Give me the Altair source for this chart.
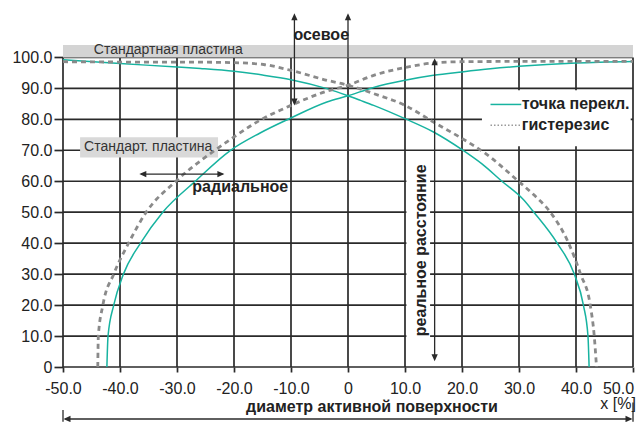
import altair as alt
import pandas as pd

# ---- curve data ----
teal_down_x = [-50, -40, -30, -25.9, -20, -15, -10, -3.7, 0, 2.2, 4.5, 10, 15, 20, 23.5, 27.0, 30.8, 32.6, 36.7, 39.7, 41.3, 42.1, 42.3]
teal_down_y = [99.2, 98.0, 96.9, 96.4, 95.5, 94.3, 92.8, 89.9, 87.6, 86.1, 84.5, 80.2, 75.9, 70.2, 65.6, 60.0, 54.0, 50, 40, 30, 20, 10, 0]

teal_up_x = [-42.3, -42.1, -41.1, -39.4, -36.4, -32.5, -26.8, -20.6, -15.5, -10.4, -3.7, 0, 4.5, 10, 15, 20, 25, 30, 40, 50]
teal_up_y = [0, 10, 20, 30, 40, 50, 60, 70, 75.5, 80.1, 85.6, 87.6, 90.3, 92.6, 94.2, 95.3, 96.3, 97.1, 98.2, 98.7]

dot_down_x = [-50, -40, -30, -20, -14.8, -10, -3.7, 0, 4.5, 10, 15, 20, 23.8, 29.9, 32.6, 35.5, 38.7, 40.8, 42.5, 43.2, 43.6]
dot_down_y = [98.6, 98.5, 98.5, 98.3, 97.7, 95.8, 92.6, 91.0, 88.3, 84.5, 79.1, 73.8, 69.4, 60, 55.6, 50, 40, 30, 20, 10, 0]

dot_up_x = [-43.9, -43.8, -43.0, -41.1, -38.5, -35.4, -30.2, -23.5, -20, -16, -10, -3.7, 0, 4.5, 10, 15, 20, 30, 40, 50]
dot_up_y = [0, 10, 20, 30, 40, 50, 60, 69.8, 74.3, 79.1, 84.5, 89.1, 91.0, 94.2, 96.7, 98.2, 98.6, 98.7, 98.7, 98.7]

x_ticks = list(range(-50, 51, 10))
y_ticks = list(range(0, 101, 10))

TEAL = "#17b3a0"
GRAY = "#8a8a8a"
INK = "#2a2a2a"
FONT = "Liberation Sans"

lab = "datum.value == 0 ? '0' : (datum.value < 0 ? '-' : '') + format(abs(datum.value), '.1f')"
xs = alt.Scale(domain=[-50, 50], nice=False, zero=False)
ys = alt.Scale(domain=[0, 104], nice=False, zero=False)
xaxis = alt.Axis(values=x_ticks, domain=False, grid=False, ticks=True, tickSize=5, tickColor=INK,
                 tickWidth=1.7, labelFont=FONT, labelFontSize=16, labelColor="#222222",
                 labelPadding=8, labelExpr=lab, labelFlush=False, labelOverlap=False, title="",
                 labelOffset={"condition": {"test": "datum.value == 50", "value": -15}, "value": 0})
yaxis = alt.Axis(values=y_ticks, domain=False, grid=False, ticks=True, tickSize=9, tickColor=INK,
                 tickWidth=1.7, labelFont=FONT, labelFontSize=16, labelColor="#222222",
                 labelPadding=2, labelExpr=lab, labelOverlap=False, title="")

X = alt.X("x:Q", scale=xs, axis=xaxis)
Y = alt.Y("y:Q", scale=ys, axis=yaxis)
X2 = alt.X2("x2:Q")
Y2 = alt.Y2("y2:Q")

# ---- grid ----
vgrid = pd.DataFrame({"x": x_ticks, "y": [0] * len(x_ticks), "y2": [100] * len(x_ticks)})
hgrid = pd.DataFrame({"y": y_ticks, "x": [-50] * len(y_ticks), "x2": [50] * len(y_ticks)})
grid_v = alt.Chart(vgrid).mark_rule(color=INK, strokeWidth=1.7).encode(x=X, y=Y, y2=Y2)
grid_h = alt.Chart(hgrid).mark_rule(color=INK, strokeWidth=1.7).encode(x=X, x2=X2, y=Y)

# ---- boxes ----
white_boxes = pd.DataFrame({"x": [23.5, 10.25], "x2": [49.6, 14.4], "y": [71.3, 7.0], "y2": [89.4, 67.0]})
wbox = alt.Chart(white_boxes).mark_rect(color="white").encode(x=X, x2=X2, y=Y, y2=Y2)
band = pd.DataFrame({"x": [-50], "x2": [50], "y": [100], "y2": [104]})
band_m = alt.Chart(band).mark_rect(color="#d4d4d4").encode(x=X, x2=X2, y=Y, y2=Y2)
lbox = pd.DataFrame({"x": [-47.0], "x2": [-22.8], "y": [67.7], "y2": [74.2]})
lbox_m = alt.Chart(lbox).mark_rect(color="#d9d9d9").encode(x=X, x2=X2, y=Y, y2=Y2)

# ---- curves ----
def curve(xv, yv, name):
    return pd.DataFrame({"x": xv, "y": yv, "s": name, "o": list(range(len(xv)))})

teal_df = pd.concat([curve(teal_down_x, teal_down_y, "a"), curve(teal_up_x, teal_up_y, "b")])
dot_df = pd.concat([curve(dot_down_x, dot_down_y, "c"), curve(dot_up_x, dot_up_y, "d")])
teal_m = alt.Chart(teal_df).mark_line(color=TEAL, strokeWidth=1.5, interpolate="monotone").encode(
    x=X, y=Y, detail="s:N", order="o:Q")
dot_m = alt.Chart(dot_df).mark_line(color=GRAY, strokeWidth=2.8, strokeDash=[5, 4], interpolate="monotone").encode(
    x=X, y=Y, detail="s:N", order="o:Q")

# ---- arrows ----
vlines = pd.DataFrame({"x": [0, -9.4, 15.2, -50, 50], "y": [100, 85.2, 2.5, -17.7, -17.7], "y2": [113.2, 113.2, 99.0, -13.9, -11.5]})
hlines = pd.DataFrame({"y": [62.3, -16.8], "x": [-36.3, -49.6], "x2": [-22.0, 49.6]})
av = alt.Chart(vlines).mark_rule(color=INK, strokeWidth=1.3).encode(x=X, y=Y, y2=Y2)
ah = alt.Chart(hlines).mark_rule(color=INK, strokeWidth=1.3).encode(x=X, x2=X2, y=Y)
heads = pd.DataFrame({
    "x": [0, -9.4, -9.4, 15.2, 15.2, -36.0, -22.3, -49.3, 49.3],
    "y": [113.1, 113.1, 85.6, 98.6, 3.0, 62.3, 62.3, -16.8, -16.8],
    "a": [0, 0, 180, 0, 180, 270, 90, 270, 90],
})
head_m = alt.Chart(heads).mark_point(shape="M0,-1L0.9,1L-0.9,1Z", filled=True, size=49, color=INK, opacity=1,
                                     strokeWidth=0).encode(x=X, y=Y, angle=alt.Angle("a:Q", scale=None))

# ---- legend ----
leg = pd.DataFrame({"x": [25.0], "x2": [30.4], "y": [84.8]})
leg2 = pd.DataFrame({"x": [25.0], "x2": [30.4], "y": [78.1]})
leg_t = alt.Chart(leg).mark_rule(color=TEAL, strokeWidth=1.5).encode(x=X, x2=X2, y=Y)
leg_d = alt.Chart(leg2).mark_rule(color="#9a9a9a", strokeWidth=1.4, strokeDash=[1.5, 2]).encode(x=X, x2=X2, y=Y)

# ---- texts ----
def txt(df, **kw):
    return alt.Chart(df).mark_text(font=FONT, **kw).encode(x=X, y=Y, text="t:N")

t_band = txt(pd.DataFrame({"x": [-44.6], "y": [102.3], "t": ["Стандартная пластина"]}),
             fontSize=14, align="left", baseline="middle", color="#333333")
t_lbox = txt(pd.DataFrame({"x": [-46.3], "y": [71.0], "t": ["Стандарт. пластина"]}),
             fontSize=14, align="left", baseline="middle", color="#333333")
bold_df = pd.DataFrame({
    "x": [-4.7, -18.9, 4.2],
    "y": [107.1, 58.1, -12.9],
    "t": ["осевое", "радиальное", "диаметр активной поверхности"],
})
t_bold = txt(bold_df, fontSize=16, fontWeight="bold", align="center", baseline="middle", color="#222222")
t_leg = txt(pd.DataFrame({"x": [30.5, 30.5], "y": [84.8, 78.1], "t": ["точка перекл.", "гистерезис"]}),
            fontSize=16, fontWeight="bold", align="left", baseline="middle", color="#222222")
t_vert = txt(pd.DataFrame({"x": [12.8], "y": [37.7], "t": ["реальное расстояние"]}),
             fontSize=16, fontWeight="bold", align="center", baseline="middle", angle=270, color="#222222")
t_xu = txt(pd.DataFrame({"x": [50.5], "y": [-11.9], "t": ["x [%]"]}),
           fontSize=16, align="right", baseline="middle", color="#222222")

chart = alt.layer(
    grid_v, grid_h, wbox, band_m, lbox_m, teal_m, dot_m, av, ah, head_m,
    leg_t, leg_d, t_band, t_lbox, t_bold, t_leg, t_vert, t_xu,
).properties(
    width=570, height=322,
    autosize=alt.AutoSizeParams(type="none"),
    padding={"left": 55, "top": 37, "right": 3, "bottom": 55},
).configure_view(strokeWidth=0)

chart.save("out.html", embed_options={"renderer": "svg", "actions": False})
